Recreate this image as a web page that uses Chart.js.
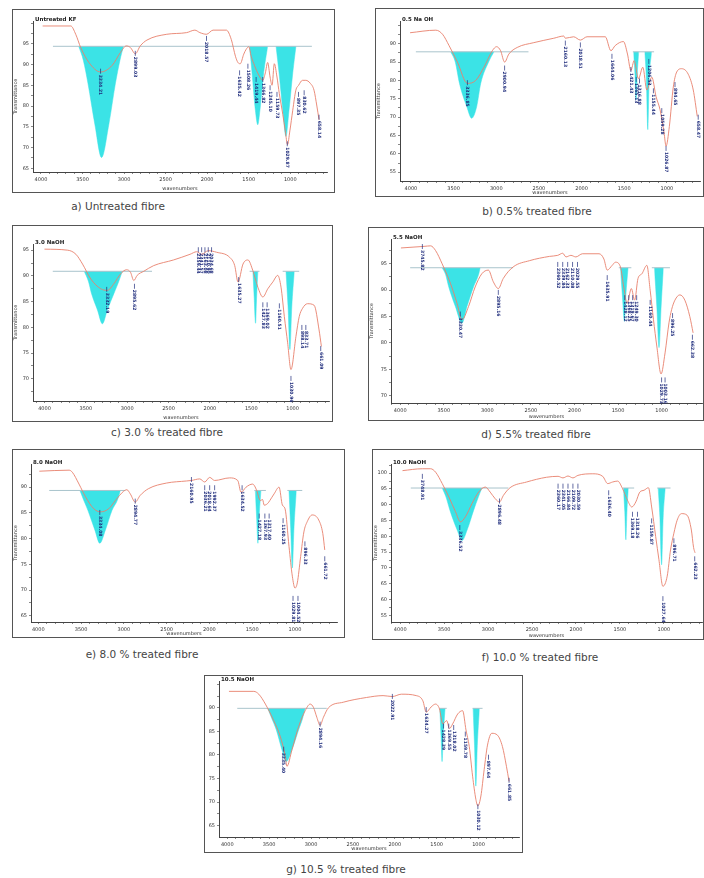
<!DOCTYPE html>
<html>
<head>
<meta charset="utf-8">
<script src="https://cdn.jsdelivr.net/npm/chart.js@4.4.1/dist/chart.umd.min.js"></script>
<style>
  body { margin: 0; background: #fff; width: 704px; height: 878px; position: relative; overflow: hidden; font-family: "DejaVu Sans", sans-serif; }
  .panel { position: absolute; border: 1px solid #555; box-sizing: border-box; background: #fff; }
  .cap { position: absolute; width: 240px; text-align: center; font-size: 10.5px; color: #444; white-space: nowrap; }
</style>
</head>
<body>
<script>
// x axis labels (wavenumbers)
const xTickLabels = [1000, 1500, 2000, 2500, 3000, 3500, 4000];

// a) Untreated
const specA = [[3980,99.3],[3641,99.3],[3582,97.3],[3522,94.1],[3423,90.5],[3283,88.2],[3143,89.8],[3044,92.9],[2972,94.5],[2924,94.1],[2865,92.6],[2805,94.5],[2725,95.9],[2486,97.3],[2247,97.7],[2148,98.3],[2088,97.7],[2008,97.3],[1929,98.3],[1769,98.3],[1709,96],[1660,92],[1630,90.5],[1602,90.2],[1560,92.5],[1530,93.7],[1499,94.3],[1470,92],[1431,89.8],[1380,87.5],[1331,86.2],[1300,88],[1272,90.5],[1243,87],[1219,85],[1192,90.2],[1160,87],[1132,83],[1090,78],[1060,74],[1033,70.7],[1005,74],[970,79],[933,83.8],[900,85],[853,86.2],[813,86.2],[760,85.5],[714,83.8],[680,80],[654,76.7]];
const aBase = 94.4;
const aSpans = [[3856, 740]];
const aBands = [
  [[3546,94.4],[3490,91],[3435,85.5],[3351,75.5],[3271,67.6],[3184,75.5],[3104,85.5],[3050,91],[3008,94.4]],
  [[1490,94.4],[1460,88],[1420,79],[1391,75.5],[1365,79],[1320,88],[1272,94.4]],
  [[1171,94.4],[1135,88],[1090,79],[1052,72.7],[1015,79],[970,88],[932,94.4]]
];
const aPeaks = [[3283,87.8,'3334.21'],[2865,92.1,'2899.03'],[2008,95.7,'2018.57'],[1610,87.4,'1635.42'],[1510,89,'1508.26'],[1411,85.8,'1419.44'],[1331,85.8,'1366.82'],[1243,83.8,'1245.10'],[1160,82.2,'1159.73'],[1036,70.3,'1029.87'],[901,82.2,'897.35'],[833,82.6,'830.62'],[654,76.7,'658.14']];
const aYTicks = [65, 70, 75, 80, 85, 90, 95];

// b) 0.5 %
const specB = [[4010,93.0],[3708,93.7],[3630,92.6],[3553,89.5],[3455,85.0],[3338,79.2],[3241,80.0],[3144,83.6],[3046,88.1],[2996,89.2],[2949,88.1],[2902,85.0],[2852,87.2],[2754,89.0],[2560,90.3],[2326,91.5],[2209,92.1],[2190,91.5],[2093,91.9],[2014,91.0],[1936,91.9],[1722,91.9],[1656,88.1],[1606,89.5],[1509,90.6],[1462,87.2],[1422,82.7],[1384,85.4],[1333,80.5],[1282,83.6],[1235,77.4],[1177,80.9],[1127,75.6],[1080,72.0],[1033,65.7],[1010,62.1],[971,67.5],[925,78.2],[885,82.3],[827,83.2],[750,81.7],[691,77.4],[644,70.2]];
const bBase = 87.8;
const bSpans = [[3942, 2622], [1399, 1150]];
const bBands = [
  [[3533,87.8],[3480,85],[3431,79.2],[3346,72.9],[3288,69.7],[3229,72.9],[3182,79.2],[3090,85],[3027,87.8]],
  [[1390,87.8],[1375,82],[1361,74.7],[1347,82],[1330,87.8]],
  [[1258,87.8],[1240,80],[1224,66.6],[1208,80],[1180,87.8]]
];
const bPeaks = [[3338,78.7,'3336.85'],[2902,82.7,'2900.94'],[2190,89.5,'2160.13'],[2014,89,'2018.51'],[1644,85.9,'1644.06'],[1422,82.3,'1421.43'],[1360,79.6,'1365.13'],[1321,79.2,'1316.88'],[1212,84.5,'1206.53'],[1158,76.5,'1155.44'],[1060,71.1,'1059.28'],[1010,60.8,'1026.87'],[905,78.2,'894.65'],[633,69.3,'658.47']];
const bYTicks = [55, 60, 65, 70, 75, 80, 85, 90];

// c) 3.0 %
const specC = [[4000,95.2],[3720,95.0],[3620,94.2],[3540,92.3],[3440,89.4],[3320,87.5],[3240,87.2],[3160,88.5],[3080,90.4],[3008,91.2],[2960,90.7],[2920,89.1],[2880,90.1],[2800,90.9],[2680,92.0],[2440,93.1],[2240,94.2],[2160,94.7],[2100,94.2],[2020,94.9],[1920,94.6],[1760,93.6],[1700,92.0],[1660,88.8],[1600,92.3],[1540,93.1],[1480,91.0],[1420,87.8],[1360,85.9],[1300,87.5],[1240,88.8],[1180,90.1],[1140,87.8],[1100,82.1],[1060,77.0],[1020,71.8],[960,78.2],[920,82.1],[880,83.7],[820,84.6],[740,84.3],[680,79.5],[652,76.3]];
const cBase = 90.9;
const cSpans = [[3900, 2700], [1520, 1400], [1120, 920]];
const cBands = [
  [[3520,90.9],[3470,89],[3432,86.6],[3360,83.4],[3300,80.7],[3240,83.4],[3160,86.6],[3100,89],[3060,90.9]],
  [[1480,90.9],[1465,86],[1448,80.8],[1435,86],[1420,90.9]],
  [[1080,90.9],[1055,84],[1032,75.7],[1010,84],[980,90.9]]
];
const cPeaks = [[3248,86.9,'3332.19'],[2912,87.5,'2895.62'],[2140,94.6,'2359.44'],[2100,94.6,'2341.57'],[2060,94.6,'2163.08'],[2020,94.6,'2110.90'],[1980,94.6,'2034.68'],[1652,88.8,'1635.27'],[1360,83.9,'1427.83'],[1308,83.9,'1369.02'],[1160,83.7,'1160.51'],[1020,69.6,'1030.96'],[888,79.5,'898.14'],[840,79.5,'833.71'],[660,75.4,'661.09']];
const cYTicks = [70, 75, 80, 85, 90, 95];

// d) 5.5 %
const specD = [[3992,98.0],[3727,98.3],[3651,98.4],[3594,97.5],[3519,95.0],[3424,91.3],[3348,87.5],[3291,84.4],[3216,86.9],[3140,90.6],[3064,93.1],[2988,93.8],[2932,91.6],[2874,90.3],[2818,92.2],[2704,94.4],[2514,95.6],[2287,96.4],[2192,96.6],[2135,97.0],[2097,96.3],[2041,96.6],[1984,96.3],[1908,96.9],[1718,96.9],[1662,95.9],[1624,93.8],[1567,94.7],[1529,95.3],[1472,94.4],[1434,90.6],[1396,87.5],[1347,90.3],[1309,88.1],[1271,92.2],[1226,93.1],[1169,94.7],[1131,90.0],[1093,84.4],[1055,79.4],[1006,74.1],[960,78.1],[915,83.8],[885,86.3],[847,88.1],[790,89.1],[733,88.1],[676,85.0],[638,81.9]];
const dBase = 94.25;
const dSpans = [[3886, 2704], [1491, 1347], [1112, 904]];
const dBands = [
  [[3519,94.25],[3480,93],[3443,90.6],[3367,86.9],[3291,83.75],[3234,86.9],[3159,90.6],[3100,93],[3083,94.25]],
  [[1472,94.25],[1450,89],[1427,84.1],[1410,89],[1385,94.25]],
  [[1082,94.25],[1055,87],[1029,79.1],[1005,87],[980,94.25]]
];
const dPeaks = [[3746,97.8,'3745.82'],[3310,85,'3330.47'],[2874,89.1,'2895.16'],[2192,94.4,'2360.52'],[2135,94.4,'2339.84'],[2078,94.4,'2162.33'],[2022,94.4,'2110.08'],[1965,94.4,'2029.55'],[1624,91.9,'1635.91'],[1423,88.1,'1428.12'],[1377,88.1,'1368.25'],[1332,88.1,'1319.67'],[1286,88.1,'1249.30'],[1131,87.2,'1160.44'],[1000,72.5,'1029.73'],[960,72.5,'1003.16'],[874,84.7,'896.25'],[646,80.6,'662.38']];
const dYTicks = [70, 75, 80, 85, 90, 95];

// e) 8.0 %
const specE = [[3988,93.1],[3640,93.3],[3602,92.9],[3524,90.6],[3447,88.1],[3351,85.8],[3273,85.2],[3177,85.8],[3099,87.4],[3003,89.2],[2964,89.5],[2925,88.7],[2867,87.1],[2809,88.4],[2713,89.7],[2500,90.8],[2268,91.2],[2210,91.3],[2113,91.6],[2055,91.0],[1997,91.9],[1939,91.3],[1765,91.8],[1669,91.3],[1630,89.0],[1572,90.0],[1495,90.6],[1448,89.4],[1406,87.4],[1379,87.6],[1360,86.5],[1321,86.8],[1294,87.4],[1244,88.7],[1186,90.0],[1147,86.5],[1116,85.8],[1070,78.5],[1031,72.7],[1000,70.4],[973,71.4],[934,76.5],[896,81.3],[857,83.3],[799,84.6],[722,83.6],[675,81.0],[652,77.8]];
const eBase = 89.36;
const eSpans = [[3872, 2983], [1475, 1340], [1089, 915]];
const eBands = [
  [[3513,89.36],[3470,87.5],[3420,85.5],[3339,81.7],[3281,79.1],[3215,81.7],[3138,85.5],[3075,87.5],[3041,89.36]],
  [[1464,89.36],[1448,84],[1433,79.1],[1420,84],[1398,89.36]],
  [[1070,89.36],[1050,82],[1031,74.3],[1012,82],[985,89.36]]
];
const ePeaks = [[3281,84.6,'3334.08'],[2867,86.8,'2894.77'],[2210,91,'2160.95'],[2055,89.4,'2036.21'],[1997,89.4,'2018.64'],[1939,89.4,'1992.37'],[1618,89.4,'1634.52'],[1418,83.9,'1427.18'],[1352,83.9,'1367.93'],[1302,83.9,'1317.40'],[1139,83,'1160.25'],[1023,67.9,'1029.81'],[965,67.9,'1004.52'],[884,78.5,'896.33'],[652,75.6,'661.72']];
const eYTicks = [65, 70, 75, 80, 85, 90];

// f) 10.0 %
const specF = [[3974,100.8],[3748,101.4],[3654,101.4],[3597,100.3],[3522,96.7],[3447,92.5],[3371,87.8],[3315,84.6],[3258,86.2],[3183,90.4],[3108,94.0],[3032,95.6],[2976,94.0],[2919,91.9],[2870,90.9],[2825,93.0],[2750,95.4],[2562,97.2],[2336,98.7],[2204,99.0],[2148,98.5],[2091,99.1],[2035,98.5],[1978,99.3],[1809,99.8],[1696,99.0],[1639,96.7],[1583,97.2],[1526,97.5],[1470,95.1],[1413,91.4],[1365,89.3],[1319,90.9],[1274,94.0],[1225,94.6],[1176,95.4],[1139,89.3],[1093,79.9],[1056,72.6],[1011,64.2],[962,67.4],[924,75.7],[886,81.0],[849,85.1],[800,87.2],[736,86.7],[687,82.0],[662,76.5],[645,74.8]];
const fBase = 95.3;
const fSpans = [[3880, 2769], [1470, 1338], [1075, 924]];
const fBands = [
  [[3522,95.3],[3480,92.5],[3435,88.3],[3352,82.0],[3296,78.7],[3239,82.0],[3164,88.3],[3110,92.5],[3070,95.3]],
  [[1460,95.3],[1445,88],[1432,78.9],[1420,88],[1405,95.3]],
  [[1065,95.3],[1045,86],[1026,71.0],[1008,86],[985,95.3]]
];
const fPeaks = [[3748,98.2,'3748.91'],[3322,82,'3336.52'],[2870,90.4,'2896.48'],[2204,95.1,'2360.17'],[2148,95.1,'2341.05'],[2091,95.1,'2166.84'],[2035,95.1,'2109.72'],[1978,95.1,'2030.59'],[1628,93,'1636.40'],[1357,86.2,'1369.18'],[1300,86.2,'1318.26'],[1139,84.1,'1159.87'],[1011,59.5,'1027.64'],[886,77.8,'896.71'],[649,72.1,'662.23']];
const fYTicks = [55, 60, 65, 70, 75, 80, 85, 90, 95, 100];

// g) 10.5 %
const specG = [[3980,93.5],[3683,93.5],[3624,92.9],[3545,90.8],[3446,87.3],[3367,83.9],[3307,79.7],[3288,77.6],[3228,81.1],[3149,86.0],[3070,89.4],[3010,90.8],[2971,90.1],[2931,88.0],[2892,86.3],[2852,88.0],[2793,90.0],[2615,91.2],[2338,92.2],[2140,92.6],[2029,92.4],[1922,92.9],[1744,92.6],[1665,91.5],[1625,89.1],[1566,90.2],[1514,90.8],[1467,89.8],[1427,86.6],[1380,87.3],[1348,85.6],[1309,86.6],[1249,88.7],[1190,89.4],[1150,85.3],[1111,81.8],[1071,75.5],[1032,70.6],[1008,69.2],[972,71.3],[933,76.9],[893,82.1],[842,84.6],[774,84.2],[715,81.8],[667,77.6],[636,74.4]];
const gBase = 89.9;
const gSpans = [[3881, 2813], [1467, 1380], [1071, 952]];
const gBands = [
  [[3517,89.9],[3470,87.8],[3414,85.3],[3347,81.1],[3295,78.6],[3228,81.1],[3149,85.3],[3100,87.8],[3070,89.9]],
  [[1462,89.9],[1448,84],[1435,78.6],[1422,84],[1400,89.9]],
  [[1065,89.9],[1048,82],[1032,73.4],[1015,82],[990,89.9]]
];
const gPeaks = [[3327,80.7,'3335.40'],[2892,86,'2894.16'],[2029,91.9,'2022.91'],[1625,89.1,'1634.27'],[1419,85.6,'1428.39'],[1356,85.6,'1369.55'],[1297,85.3,'1318.02'],[1158,83.9,'1159.78'],[1008,68.5,'1030.12'],[881,79,'897.64'],[636,74.1,'661.85']];
const gYTicks = [65, 70, 75, 80, 85, 90];

// layout: box = [left, top, w, h], inset = plot area [left, top, right, bottom] inside box
const panels = [
  { box: [12, 9, 323, 184], inset: [20, 11, 7, 20], x: [558, 4096], y: [64.1, 100.5], yTicks: aYTicks, spec: specA, base: aBase, spans: aSpans, bands: aBands, peaks: aPeaks, title: 'Untreated KF', yTitle: true, cap: 'a) Untreated fibre', capAt: [118, 200] },
  { box: [375, 8, 329, 189], inset: [24, 12, 3, 15], x: [612, 4128], y: [52.6, 96.2], yTicks: bYTicks, spec: specB, base: bBase, spans: bSpans, bands: bBands, peaks: bPeaks, title: '0.5 Na OH', yTitle: true, cap: 'b) 0.5% treated fibre', capAt: [537, 205] },
  { box: [12, 225, 321, 197], inset: [20, 18, 3, 20], x: [560, 4139], y: [65.7, 96.2], yTicks: cYTicks, spec: specC, base: cBase, spans: cSpans, bands: cBands, peaks: cPeaks, title: '3.0 NaOH', yTitle: true, cap: 'c) 3.0 % treated fibre', capAt: [167, 426] },
  { box: [368, 227, 336, 194], inset: [22, 11, 1, 17], x: [536, 4106], y: [68.6, 99.7], yTicks: dYTicks, spec: specD, base: dBase, spans: dSpans, bands: dBands, peaks: dPeaks, title: '5.5 NaOH', yTitle: true, cap: 'd) 5.5% treated fibre', capAt: [536, 428] },
  { box: [12, 449, 333, 189], inset: [18, 14, 7, 15], x: [509, 4085], y: [63.8, 94.5], yTicks: eYTicks, spec: specE, base: eBase, spans: eSpans, bands: eBands, peaks: ePeaks, title: '8.0 NaOH', yTitle: true, cap: 'e) 8.0 % treated fibre', capAt: [142, 648] },
  { box: [372, 449, 332, 191], inset: [18, 14, 1, 17], x: [566, 4105], y: [52.9, 102.9], yTicks: fYTicks, spec: specF, base: fBase, spans: fSpans, bands: fBands, peaks: fPeaks, title: '10.0 NaOH', yTitle: true, cap: 'f) 10.0 % treated fibre', capAt: [540, 651] },
  { box: [204, 675, 319, 178], inset: [14, 5, 3, 15], x: [517, 4099], y: [62.6, 95.7], yTicks: gYTicks, spec: specG, base: gBase, spans: gSpans, bands: gBands, peaks: gPeaks, title: '10.5 NaOH', yTitle: false, cap: 'g) 10.5 % treated fibre', capAt: [346, 863] }
];

Chart.defaults.font.family = '"DejaVu Sans", sans-serif';
Chart.defaults.color = '#333';

// peak labels + small title in the top left corner
const peakLabels = {
  id: 'peakLabels',
  afterDatasetsDraw(chart, args, opts) {
    const { ctx, chartArea } = chart;
    const xs = chart.scales.x, ys = chart.scales.y;
    ctx.save();
    ctx.fillStyle = '#1f2c7c';
    ctx.strokeStyle = '#1f2c7c';
    ctx.lineWidth = 0.7;
    ctx.font = 'bold 4.5px "DejaVu Sans"';
    opts.peaks.forEach(([wn, t, txt]) => {
      const px = xs.getPixelForValue(wn), py = ys.getPixelForValue(t);
      ctx.beginPath();
      ctx.moveTo(px, py - 5);
      ctx.lineTo(px, py);
      ctx.stroke();
      ctx.save();
      ctx.translate(px, py + 1);
      ctx.rotate(Math.PI / 2);
      ctx.textAlign = 'left';
      ctx.textBaseline = 'middle';
      ctx.fillText(txt, 0, 0);
      ctx.restore();
    });
    ctx.fillStyle = '#222';
    ctx.font = 'bold 5.5px "DejaVu Sans"';
    ctx.textAlign = 'left';
    ctx.textBaseline = 'bottom';
    ctx.fillText(opts.title, chartArea.left + 2, chartArea.top + 1);
    ctx.restore();
  }
};

panels.forEach(p => {
  const [bl, bt, bw, bh] = p.box;
  const [il, it, ir, ib] = p.inset;
  const div = document.createElement('div');
  div.className = 'panel';
  div.style.left = bl + 'px';
  div.style.top = bt + 'px';
  div.style.width = bw + 'px';
  div.style.height = bh + 'px';
  const cv = document.createElement('canvas');
  cv.width = bw - 2;
  cv.height = bh - 2;
  cv.style.width = (bw - 2) + 'px';
  cv.style.height = (bh - 2) + 'px';
  div.appendChild(cv);
  document.body.appendChild(div);

  const cap = document.createElement('div');
  cap.className = 'cap';
  cap.textContent = p.cap;
  cap.style.left = (p.capAt[0] - 120) + 'px';
  cap.style.top = p.capAt[1] + 'px';
  document.body.appendChild(cap);

  const datasets = [];
  datasets.push({
    data: p.spec.map(([x, y]) => ({ x, y })),
    borderColor: '#e8806c', borderWidth: 0.9, pointRadius: 0,
    cubicInterpolationMode: 'monotone', fill: false, order: 0
  });
  p.spans.forEach(([a, b]) => datasets.push({
    data: [{ x: a, y: p.base }, { x: b, y: p.base }],
    borderColor: '#a9c4cc', borderWidth: 1, pointRadius: 0, fill: false, order: 1
  }));
  p.bands.forEach(band => datasets.push({
    data: band.map(([x, y]) => ({ x, y })),
    borderColor: '#3be3e6', borderWidth: 0.5, backgroundColor: '#3be3e6', pointRadius: 0,
    cubicInterpolationMode: 'monotone', fill: { value: p.base }, order: 2
  }));

  new Chart(cv, {
    type: 'line',
    data: { datasets },
    options: {
      responsive: false,
      animation: false,
      events: [],
      layout: { padding: { left: 0, top: it, right: ir, bottom: 0 } },
      plugins: {
        legend: { display: false },
        tooltip: { enabled: false },
        peakLabels: { peaks: p.peaks, title: p.title }
      },
      scales: {
        x: {
          type: 'linear', reverse: true, min: p.x[0], max: p.x[1],
          afterFit: s => { s.height = ib; },
          afterBuildTicks: s => {
            const t = [];
            for (let v = Math.ceil(p.x[0] / 100) * 100; v <= p.x[1]; v += 100) t.push({ value: v });
            s.ticks = t;
          },
          ticks: {
            autoSkip: false, maxRotation: 0, padding: 3, font: { size: 5 }, color: '#333',
            callback: v => (xTickLabels.includes(v) ? v : '')
          },
          grid: { drawOnChartArea: false, tickLength: 2, color: '#555', lineWidth: 0.7 },
          border: { color: '#444', width: 1 },
          title: { display: true, text: 'wavenumbers', font: { size: 5 }, padding: 0, color: '#333' }
        },
        y: {
          type: 'linear', min: p.y[0], max: p.y[1],
          afterFit: s => { s.width = il; },
          afterBuildTicks: s => {
            const t = [];
            for (let v = Math.ceil(p.y[0] / 2.5) * 2.5; v <= p.y[1]; v += 2.5) t.push({ value: v });
            s.ticks = t;
          },
          ticks: {
            autoSkip: false, padding: 2, font: { size: 5 }, color: '#333',
            callback: v => (p.yTicks.includes(v) ? v : '')
          },
          grid: { drawOnChartArea: false, tickLength: 2, color: '#555', lineWidth: 0.7 },
          border: { color: '#444', width: 1 },
          title: { display: p.yTitle, text: 'Transmittance', font: { size: 5 }, padding: 0, color: '#333' }
        }
      }
    },
    plugins: [peakLabels]
  });
});
</script>
</body>
</html>
